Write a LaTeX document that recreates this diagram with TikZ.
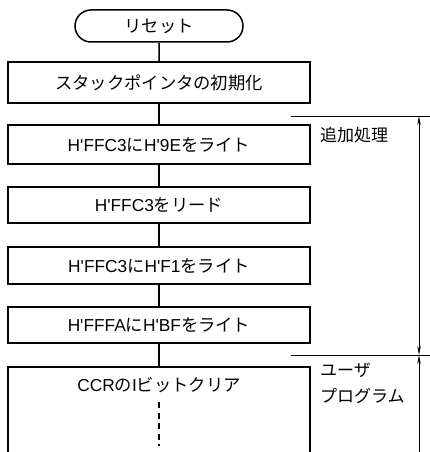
\documentclass[tikz,border=0pt]{standalone}
\usepackage{fontspec}
\newfontfamily\cjk{Noto Sans CJK JP}
\newfontfamily\lat{Liberation Sans}
\usetikzlibrary{arrows.meta,shapes.misc}
\newcommand{\q}{{\lat\textquotesingle}}
\begin{document}
\begin{tikzpicture}[x=1pt,y=-1pt,
  stepbox/.style={draw,line width=1.5pt,minimum width=302pt,inner sep=0pt,font=\fontsize{17.3}{19}\selectfont},
  term/.style={draw,line width=1.5pt,rounded rectangle,minimum width=168pt,minimum height=32pt,inner sep=0pt,font=\fontsize{17.3}{19}\selectfont},
  link/.style={line width=1.5pt},
  dim/.style={line width=0.7pt},
  tip/.style={line width=0.7pt,-{Stealth[length=9pt,width=3.5pt]}},
  lab/.style={anchor=west,inner sep=0pt,font=\fontsize{17}{19}\selectfont\cjk}]
\useasboundingbox (0,0) rectangle (430,452);
\node[term] (reset) at (159,26) {\cjk リセット};
\node[stepbox,minimum height=41pt] (b1) at (159,82.5) {\cjk スタックポインタの初期化};
\node[stepbox,minimum height=39pt] (b2) at (159,144.5) {\lat H\q FFC3\cjk に\lat H\q 9E\cjk をライト};
\node[stepbox,minimum height=36pt] (b3) at (159,205) {\lat H\q FFC3\cjk をリード};
\node[stepbox,minimum height=37pt] (b4) at (159,265.5) {\lat H\q FFC3\cjk に\lat H\q F1\cjk をライト};
\node[stepbox,minimum height=36pt] (b5) at (159,325) {\lat H\q FFFA\cjk に\lat H\q BF\cjk をライト};
\coordinate (b6top) at (159,367);
\draw[link] (8,452) -- (8,367) -- (310,367) -- (310,452);
\node[inner sep=0pt,font=\fontsize{17.3}{19}\selectfont] (b6t) at (159,385) {\lat CCR\cjk の\lat I\cjk ビットクリア};
\coordinate (d1) at (159,402);
\coordinate (d2) at (159,446);
\draw[line width=2.2pt,dash pattern=on 6pt off 4.5pt] (d1) -- (d2);
\draw[link] (reset) -- (b1);
\draw[link] (b1) -- (b2);
\draw[link] (b2) -- (b3);
\draw[link] (b3) -- (b4);
\draw[link] (b4) -- (b5);
\draw[link] (b5) -- (b6top);
% dimension lines
\coordinate (h1a) at (291,116);
\coordinate (h1b) at (430,116);
\coordinate (h2a) at (291,355);
\coordinate (h2b) at (430,355);
\coordinate (v1) at (419,116);
\coordinate (v2) at (419,355);
\coordinate (v3) at (419,452);
\draw[dim] (h1a) -- (h1b);
\draw[dim] (h2a) -- (h2b);
\draw[dim,{Stealth[length=9pt,width=3.5pt]}-{Stealth[length=9pt,width=3.5pt]}] (v1) -- (v2);
\draw[dim,{Stealth[length=9pt,width=3.5pt]}-] (v2) -- (v3);
\node[lab] (l1) at (320,135) {追加処理};
\node[lab] (l2) at (320,370) {ユーザ};
\node[lab] (l3) at (320,396) {プログラム};
\end{tikzpicture}
\end{document}
